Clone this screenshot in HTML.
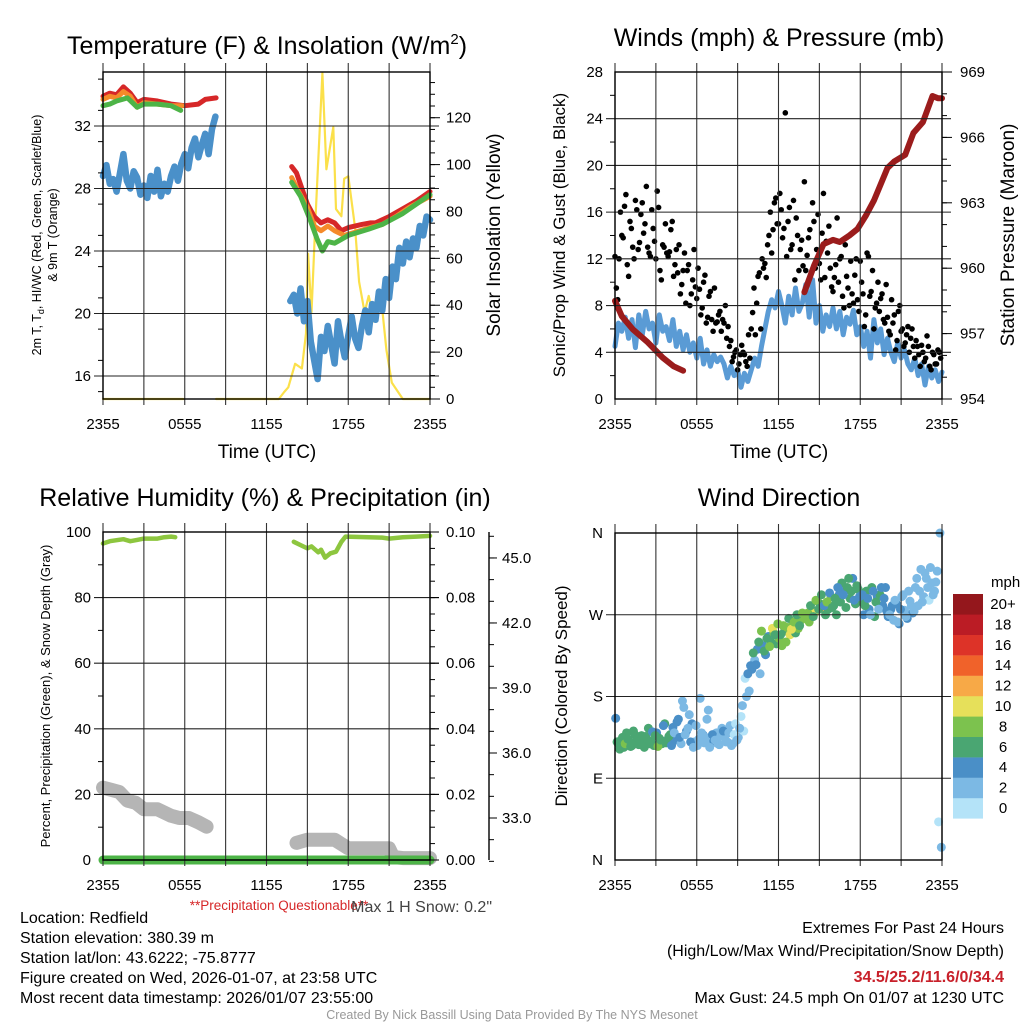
<!DOCTYPE html>
<html><head><meta charset="utf-8"><style>
html,body{margin:0;padding:0;background:#fff;}
svg{display:block;font-family:"Liberation Sans",Arial,sans-serif;}
</style></head><body>
<svg id="root" width="1024" height="1024" viewBox="0 0 1024 1024" xmlns="http://www.w3.org/2000/svg">
<rect width="1024" height="1024" fill="#fff"/>
<g id="layer-marks"></g>
<g id="layer-axes"></g>

<text x="267" y="54" font-size="25" text-anchor="middle">Temperature (F) &amp; Insolation (W/m<tspan font-size="15" dy="-10">2</tspan><tspan dy="10">)</tspan></text>
<text x="779" y="46" font-size="25" text-anchor="middle">Winds (mph) &amp; Pressure (mb)</text>
<text x="265" y="506" font-size="25" text-anchor="middle">Relative Humidity (%) &amp; Precipitation (in)</text>
<text x="779" y="506" font-size="25" text-anchor="middle">Wind Direction</text>

<text transform="translate(41,235) rotate(-90)" font-size="12.5" text-anchor="middle">2m T, T<tspan font-size="9" dy="3">d</tspan><tspan dy="-3">, HI/WC (Red, Green, Scarlet/Blue)</tspan></text>
<text transform="translate(57,235) rotate(-90)" font-size="12.5" text-anchor="middle">&amp; 9m T (Orange)</text>
<text transform="translate(500,235) rotate(-90)" font-size="19" text-anchor="middle">Solar Insolation (Yellow)</text>
<text x="267" y="458" font-size="19" text-anchor="middle">Time (UTC)</text>

<text transform="translate(565,235) rotate(-90)" font-size="17" text-anchor="middle">Sonic/Prop Wind &amp; Gust (Blue, Black)</text>
<text transform="translate(1014,235) rotate(-90)" font-size="19" text-anchor="middle">Station Pressure (Maroon)</text>
<text x="779" y="458" font-size="19" text-anchor="middle">Time (UTC)</text>

<text transform="translate(50,696) rotate(-90)" font-size="13" text-anchor="middle">Percent, Precipitation (Green), &amp; Snow Depth (Gray)</text>
<text transform="translate(567,696) rotate(-90)" font-size="17" text-anchor="middle">Direction (Colored By Speed)</text>

<text x="279" y="910" font-size="13.5" fill="#d62728" text-anchor="middle">**Precipitation Questionable**</text>
<text x="492" y="912" font-size="16" fill="#444" text-anchor="end">Max 1 H Snow: 0.2"</text>

<g font-size="16">
<text x="20" y="923">Location: Redfield</text>
<text x="20" y="943">Station elevation: 380.39 m</text>
<text x="20" y="963">Station lat/lon: 43.6222; -75.8777</text>
<text x="20" y="983">Figure created on Wed, 2026-01-07, at 23:58 UTC</text>
<text x="20" y="1003">Most recent data timestamp: 2026/01/07 23:55:00</text>
</g>
<g font-size="16" text-anchor="end">
<text x="1004" y="933">Extremes For Past 24 Hours</text>
<text x="1004" y="956">(High/Low/Max Wind/Precipitation/Snow Depth)</text>
<text x="1004" y="982" font-weight="bold" fill="#c8202a">34.5/25.2/11.6/0/34.4</text>
<text x="1004" y="1003">Max Gust: 24.5 mph On 01/07 at 1230 UTC</text>
</g>
<text x="512" y="1019" font-size="12.5" fill="#999" text-anchor="middle">Created By Nick Bassill Using Data Provided By The NYS Mesonet</text>
</svg>
<script>
// ---------- data ----------
const timeLabels = ["2355","0555","1155","1755","2355"];
const redT1 = [0,0.5,1,1.5,2,2.5,3,4,5,6,7,7.5,8.3];
const redV1 = [33.9,34.1,34.0,34.5,34.1,33.5,33.7,33.6,33.4,33.3,33.4,33.7,33.8];
const redT2 = [13.85,14.2,14.6,15.0,15.5,16.0,16.5,17.0,17.5,18,19,19.6,20,21,22,23,24];
const redV2 = [29.4,29.0,28.0,27.0,26.2,25.8,26.0,25.8,25.3,25.5,25.7,25.8,25.8,26.2,26.7,27.2,27.8];
const orgT1 = [0,0.5,1,1.5,2,2.5,3,4,5,5.8];
const orgV1 = [33.7,33.9,33.8,34.2,33.9,33.2,33.5,33.4,33.3,33.3];
const orgT2 = [13.85,14.3,15.0,15.5,16.0,16.5,17.0,17.7,18.5,19.6,20.5,21.5,22.5,24];
const orgV2 = [28.7,27.9,26.8,25.6,25.3,25.6,25.3,25.0,25.2,25.5,25.7,26.2,26.8,27.5];
const grnT1 = [0,0.5,1,1.8,2.5,3,4,5,5.7];
const grnV1 = [33.3,33.4,33.6,33.8,33.2,33.4,33.4,33.3,33.0];
const grnT2 = [13.85,14.5,15.2,15.7,16.1,16.5,17,18,19.5,20.5,22,23,24];
const grnV2 = [28.4,27.5,26.0,24.8,24.0,24.6,24.5,25.0,25.4,25.7,26.4,27.0,27.6];
const hiStart1 = 0;
const hiV1 = [28.8,29.5,28.3,28.6,27.8,29.0,30.2,28.5,28.0,29.1,28.7,27.6,28.2,27.4,28.8,27.8,29.2,27.5,28.3,27.8,28.8,29.4,28.5,29.6,30.2,29.3,30.6,31.2,30.0,30.8,31.5,30.2,31.8,32.6];
const hiStart2 = 13.75;
const hiV2 = [20.8,21.2,20.0,21.6,19.5,20.8,18.2,17.0,15.8,18.5,17.6,19.2,18.0,16.8,19.5,18.2,17.2,18.6,19.8,18.4,17.8,19.2,20.2,18.8,20.6,19.6,21.4,20.2,22.2,21.0,23.0,22.2,24.2,23.2,24.6,23.6,24.8,24.2,25.6,25.0,26.2,26.0];
const solT1 = [0,5.9];
const solV1 = [0,0];
const solT2 = [8.3,12.9,13.3,13.6,14.1,14.6,14.9,15.05,15.3,15.6,16.1,16.4,16.9,17.1,17.5,17.7,18.0,18.5,18.8,19.2,19.5,19.9,20.4,20.8,21.2,22,24];
const solV2 = [0,0,3,5,15,13,28,62,37,78,139,98,116,81,78,94,95,73,50,37,44,33,44,21,7,0,0];

const windStep = 0.25;
const windV = [4.5,6.5,5.8,7.0,5.2,6.8,4.4,7.2, 5.5,7.5,6.0,6.5,4.8,7.2,5.8,6.2, 5.0,6.8,4.5,5.8,4.2,5.5,4.0,4.8, 3.5,5.2,3.0,4.2,2.8,3.8,3.2,3.6, 3.0,1.8,2.8,2.0,2.5,1.0,2.2,1.5, 2.5,3.5,2.8,4.5,6.0,7.5,8.5,7.8, 9.2,8.0,6.5,8.8,7.2,9.5,7.5,8.2, 9.8,7.0,10.2,6.5,8.0,5.8,7.2,6.2, 7.8,6.0,7.5,5.5,7.0,6.4,7.6,5.5, 6.2,4.5,5.8,3.5,6.8,4.8,6.0,3.8, 5.2,4.0,3.2,4.8,3.5,4.2,3.0,2.5, 3.5,2.0,3.0,1.2,2.8,1.8,2.5,1.5,2.3];
const gustA = [9.5,12.0,14.0,16.5,11.5,15.2,13.0,17.0,12.8,15.8, 14.2,18.2,12.5,16.2,13.5,17.8,11.0,13.2,15.0,12.2, 14.5,10.5,12.8,13.2,9.8,12.5,11.0,8.0,10.2,9.6, 11.2,7.2,10.0,6.5,8.8,6.8,9.5,6.6,7.5,6.8, 8.0,6.2,5.0,3.6,4.2,3.0,4.6,3.8,2.8,3.5, 7.4,5.5,10.5,6.0,11.2,10.4,14.0,12.5,16.8,15.0, 17.6,13.8,24.5,15.2,12.8,17.0,15.5,11.0,13.6,18.6, 12.3,14.5,16.8,11.2,15.8,10.2,17.6,13.5,14.8,9.6, 10.4,15.5,12.0,8.8,13.2,9.5,11.8,8.2,12.0,7.5, 10.0,6.2,12.5,8.8,11.0,7.8,10.0,8.6,6.8,9.8, 5.8,8.5,7.2,5.0,8.0,6.0,4.8,6.2,5.2,4.5, 5.0,3.8,4.6,3.2,5.4,2.8,4.0,3.0,4.2,3.5];
const gustB = [12.2,8.5,16.0,13.8,17.5,10.5,14.6,12.0,16.2,13.4, 16.8,15.0,13.0,12.2,14.6,12.0,16.4,10.2,13.0,12.5, 12.6,15.2,11.5,10.8,9.0,11.0,8.2,11.5,9.0,12.8, 8.6,9.4,7.8,10.6,7.0,9.2,5.8,6.5,7.2,5.8, 6.5,5.2,4.5,3.2,4.0,2.5,3.8,4.0,3.2,5.5, 6.0,9.5,8.2,10.8,12.0,11.6,13.2,16.0,14.5,17.2, 15.0,16.2,14.6,12.2,16.4,13.2,10.2,14.0,12.8,11.4, 11.0,13.8,10.8,15.2,12.8,11.6,14.2,10.4,12.5,11.2, 9.2,11.5,10.0,12.2,7.8,10.5,8.0,9.0,10.6,8.5, 11.8,9.0,7.2,12.2,9.2,6.0,8.2,7.5,9.0,6.5, 7.0,5.5,6.5,4.2,7.5,5.8,4.5,5.5,4.0,6.0, 3.5,4.5,2.8,4.0,3.5,4.5,2.5,3.8,3.0,4.0];
const presT1 = [0,0.5,1.3,2.4,3.5,4.3,5.0];
const presV1 = [958.5,957.8,957.2,956.6,955.9,955.5,955.3];
const presT2 = [13.9,14.6,15.3,16.0,16.5,17.2,17.8,18.4,19.0,20.0,20.5,21.3,21.9,22.6,23.3,23.7,24];
const presV2 = [958.9,960.1,961.1,961.3,961.2,961.5,961.8,962.4,963.1,964.6,964.9,965.2,966.2,966.7,967.9,967.8,967.8];

const rhT1 = [0,0.5,1,1.5,2,2.5,3,4,4.5,5,5.3];
const rhV1 = [96.5,97.2,97.5,97.8,97.2,97.6,98.0,98.0,98.4,98.6,98.4];
const rhT2 = [14.0,14.5,15.0,15.3,15.8,16.0,16.3,16.7,17.1,17.5,17.8,18.5,19.5,20.5,21,22,23,24];
const rhV2 = [97.0,96.0,95.0,95.6,93.8,94.6,92.2,93.5,94.0,97.0,98.6,98.5,98.4,98.3,98.0,98.4,98.6,98.8];
const snowT1 = [0,0.6,1.2,1.8,2.4,3.0,4.0,5.0,5.6,6.3,7.0,7.6];
const snowV1 = [34.4,34.3,34.2,33.8,33.7,33.4,33.4,33.1,33.0,33.0,32.8,32.6];
const snowT2 = [14.2,15.0,16.0,17.0,17.5,18.0,19.0,20.0,21.0,21.3,22,23,24];
const snowV2 = [31.85,32.0,32.0,32.0,31.8,31.6,31.6,31.6,31.6,31.2,31.15,31.15,31.15];
const precipT = [0,24];
const precipV = [0,0];

const dirStep = 0.2;
const dirA = [156,128,132,124,140,130,126,138,134,129, 128,136,145,130,126,140,134,128,150,132, 138,146,132,155,128,168,142,160,150,130, 126,178,138,135,165,128,131,140,127,145, 136,130,148,128,150,135,158,142,180,186, 210,220,232,205,236,226,246,240,250,238, 244,236,252,256,248,262,250,255,264,270, 268,262,275,272,285,282,278,270,276,290, 280,270,292,305,296,300,288,310,282,298, 285,270,296,276,300,268,290,292,280,300, 268,276,264,282,260,290,275,266,285,272, 300,280,320,290,310,286,305,296,318,360];
const spdA = [4,6,7,6,6,7,6,6,7,6, 7,6,6,7,6,5,7,6,6,5, 6,4,4,5,3,3,4,2,4,3, 2,2,4,3,2,3,4,2,3,2, 2,2,3,2,1,2,1,1,3,2, 4,3,4,2,5,4,5,7,8,7, 8,9,7,8,10,8,7,9,8,6, 7,8,6,11,9,7,13,6,7,8, 7,6,5,7,4,6,7,5,6,7, 6,5,7,4,6,6,5,7,5,4, 4,5,3,4,4,3,2,5,3,4, 2,3,2,3,2,1,2,3,2,2];
const dirB = [130,122,135,128,133,125,142,131,127,137, 124,133,128,141,137,125,132,148,129,136, 126,140,152,135,175,138,145,130,124,148, 133,140,129,155,124,138,132,128,136,142, 130,140,126,138,132,145,170,200,205,214, 228,215,240,252,230,244,235,255,248,260, 248,258,240,266,254,262,270,258,272,266, 272,280,268,286,276,292,280,284,294,278, 288,300,284,292,278,310,296,286,302,290, 292,280,288,270,296,284,276,300,288,274, 270,280,286,262,276,292,268,296,280,274, 310,296,284,316,300,322,292,306,42,14];
const spdB = [6,7,6,8,6,7,6,7,6,6, 6,7,6,4,6,8,6,4,7,6, 4,3,4,4,2,3,3,4,2,3, 3,2,3,2,2,4,3,2,2,4, 2,3,2,1,2,3,2,1,4,4, 6,4,7,8,6,7,8,10,7,8, 7,8,9,7,10,8,6,7,9,8, 8,6,7,8,6,7,5,8,4,7, 6,5,7,4,6,7,6,4,6,5, 4,6,5,3,4,6,3,4,5,4, 3,4,3,2,4,3,2,3,2,3, 2,3,2,2,3,2,3,2,1,2];
const speedColors = ["#b4e3f8","#7cb9e4","#4a8fc7","#4aa672","#7cc24e","#e6e05a","#f7a947","#f0622a","#dd3328","#bb1c25","#94171c"];
const speedLabels = ["0","2","4","6","8","10","12","14","16","18","20+"];

// ---------- helpers ----------
const NS="http://www.w3.org/2000/svg";
const marks=document.getElementById('layer-marks');
const axes=document.getElementById('layer-axes');
function mk(tag,parent,attrs){const e=document.createElementNS(NS,tag);for(const k in attrs)e.setAttribute(k,attrs[k]);parent.appendChild(e);return e;}
const P1={L:103,R:430,T:72,B:399};
const P2={L:615,R:942,T:72,B:399};
const P3={L:103,R:430,T:532,B:860};
const P4={L:615,R:942,T:533,B:860};
function xAt(p,t){return p.L+t/24*(p.R-p.L);}
const yTemp=v=>126+(32-v)*15.625;
const ySol=v=>399-v*2.344;
const yWind=v=>399-v*11.68;
const yPres=v=>399-(v-954)*21.8;
const yRH=v=>860-v*3.28;
const ySnow=v=>818-(v-33)*21.67;
const yPrec=v=>860-v*3280;
const yDir=v=>860-v*0.9083;
function line(p,ts,vs,yf,color,w,name){
  const pts=ts.map((t,i)=>xAt(p,t).toFixed(1)+','+yf(vs[i]).toFixed(1)).join(' ');
  const e=mk('polyline',marks,{points:pts,fill:'none',stroke:color,'stroke-width':w,'stroke-linejoin':'round','stroke-linecap':'round'});
  
  
}
function stepLine(p,start,step,vs,yf,color,w,name){line(p,vs.map((v,i)=>start+i*step),vs,yf,color,w,name);}

// ---------- grids / frames ----------
function frame(p,name,hTicks){
  const g=mk('g',axes,{});
  
  
  for(let i=0;i<=8;i++){const x=p.L+i*(p.R-p.L)/8;mk('line',g,{x1:x,x2:x,y1:p.T-9,y2:p.B+6,stroke:'#333','stroke-width':1.1});}
  hTicks.forEach(y=>mk('line',g,{x1:p.L-9,x2:p.R+9,y1:y,y2:y,stroke:'#222','stroke-width':1.1}));
  mk('rect',g,{x:p.L,y:p.T,width:p.R-p.L,height:p.B-p.T,fill:'none',stroke:'#000','stroke-width':1.4});
  timeLabels.forEach((s,i)=>{const t=mk('text',g,{x:p.L+i*(p.R-p.L)/4,y:p.B+30,'font-size':15,'text-anchor':'middle'});t.textContent=s;});
}
function labelsL(p,vals,yf,fmt){vals.forEach(v=>{const t=mk('text',axes,{x:p.L-12,y:yf(v)+5,'font-size':15,'text-anchor':'end'});t.textContent=fmt(v);});}
function labelsR(x,vals,yf,fmt){vals.forEach(v=>{const t=mk('text',axes,{x:x,y:yf(v)+5,'font-size':15});t.textContent=fmt(v);});}
function minor(x,dir,vals,yf,len){vals.forEach(v=>{const y=yf(v);mk('line',axes,{x1:x,x2:x+dir*len,y1:y,y2:y,stroke:'#000','stroke-width':1});});}
const rng=(a,b,s)=>{const r=[];for(let v=a;v<=b+1e-9;v+=s)r.push(+v.toFixed(4));return r;};

// panel 1
frame(P1,'temperature-grid',[16,20,24,28,32].map(yTemp));
labelsL(P1,[16,20,24,28,32],yTemp,v=>v);
minor(P1.L,-1,rng(15,35,2),yTemp,5);
minor(P1.R,1,rng(0,135,5),ySol,5);
minor(P1.R,1,rng(0,120,20),ySol,10);
labelsR(446,rng(0,120,20),ySol,v=>v);
// panel 2
frame(P2,'winds-grid',rng(4,24,4).map(yWind));
labelsL(P2,rng(0,28,4),yWind,v=>v);
minor(P2.L,-1,rng(2,26,4),yWind,5);
minor(P2.R,1,rng(954,969,1),yPres,5);
minor(P2.R,1,rng(954,969,3),yPres,10);
labelsR(960,rng(954,969,3),yPres,v=>v);
// panel 3
frame(P3,'humidity-grid',rng(20,80,20).map(yRH));
labelsL(P3,rng(0,100,20),yRH,v=>v);
minor(P3.L,-1,rng(10,90,20),yRH,5);
minor(P3.R,1,rng(0,0.1,0.005),yPrec,5);
minor(P3.R,1,rng(0,0.1,0.02),yPrec,9);
labelsR(446,rng(0,0.1,0.02),yPrec,v=>v.toFixed(2));
mk('line',axes,{x1:489,x2:489,y1:532,y2:860,stroke:'#000','stroke-width':1.4});
minor(489,1,rng(31,46,1),ySnow,5);
minor(489,1,rng(33,45,3),ySnow,8);
labelsR(502,rng(33,45,3),ySnow,v=>v.toFixed(1));
// panel 4
frame(P4,'direction-grid',[90,180,270].map(yDir));
[[0,'N'],[90,'E'],[180,'S'],[270,'W'],[360,'N']].forEach(([d,s])=>{const t=mk('text',axes,{x:P4.L-12,y:yDir(d)+5,'font-size':15,'text-anchor':'end'});t.textContent=s;});

// ---------- marks ----------
line(P1,solT1,solV1,ySol,'#fbe04a',2.2,'solar-series-night');
line(P1,solT2,solV2,ySol,'#fbe04a',2.2,'solar-series');
stepLine(P1,hiStart1,0.25,hiV1,yTemp,'#4a90c9',6.5,'heat-index-series-1');
stepLine(P1,hiStart2,0.25,hiV2,yTemp,'#4a90c9',6.5,'heat-index-series-2');
line(P1,redT1,redV1,yTemp,'#d62728',5,'temp-2m-series-1');
line(P1,redT2,redV2,yTemp,'#d62728',5,'temp-2m-series-2');
line(P1,orgT1,orgV1,yTemp,'#f58a2a',5,'temp-9m-series-1');
line(P1,orgT2,orgV2,yTemp,'#f58a2a',5,'temp-9m-series-2');
line(P1,grnT1,grnV1,yTemp,'#4db447',5,'dewpoint-series-1');
line(P1,grnT2,grnV2,yTemp,'#4db447',5,'dewpoint-series-2');

stepLine(P2,0,windStep,windV,yWind,'#5a9bd5',5,'wind-speed-series');
gustA.forEach((g,i)=>{const c=mk('circle',marks,{cx:xAt(P2,0.1+i*0.2),cy:yWind(g),r:2.8,fill:'#000'});

});
gustB.forEach((g,i)=>{const c=mk('circle',marks,{cx:xAt(P2,i*0.2),cy:yWind(g),r:2.8,fill:'#000'});

});
line(P2,presT1,presV1,yPres,'#9b1c1c',6,'pressure-series-1');
line(P2,presT2,presV2,yPres,'#9b1c1c',6,'pressure-series-2');

line(P3,snowT1,snowV1,ySnow,'#b5b5b5',14,'snow-depth-series-1');
line(P3,snowT2,snowV2,ySnow,'#b5b5b5',14,'snow-depth-series-2');
line(P3,precipT,precipV,yPrec,'#4db447',9,'precipitation-series');
mk('line',marks,{x1:P3.L,x2:P3.R,y1:860,y2:860,stroke:'#1a4d1a','stroke-width':1.2});
line(P3,rhT1,rhV1,yRH,'#8dc63f',4.5,'humidity-series-1');
line(P3,rhT2,rhV2,yRH,'#8dc63f',4.5,'humidity-series-2');

function dirPts(ds,ss,off){ds.forEach((d,i)=>{const k=Math.min(10,Math.floor(ss[i]/2));
const c=mk('circle',marks,{cx:xAt(P4,off+i*dirStep),cy:yDir(d),r:4.5,fill:speedColors[k]});

});}
dirPts(dirA,spdA,0.05);
dirPts(dirB,spdB,0.15);

// colorbar
const cb=mk('g',axes,{});


speedColors.forEach((c,i)=>{const y=594+(10-i)*20.4;mk('rect',cb,{x:953,y:y,width:30,height:20.6,fill:c});
const t=mk('text',cb,{x:1003,y:y+15,'font-size':15,'text-anchor':'middle'});t.textContent=speedLabels[i];});
const mt=mk('text',cb,{x:991,y:587,'font-size':15});mt.textContent='mph';
</script>
</body></html>
